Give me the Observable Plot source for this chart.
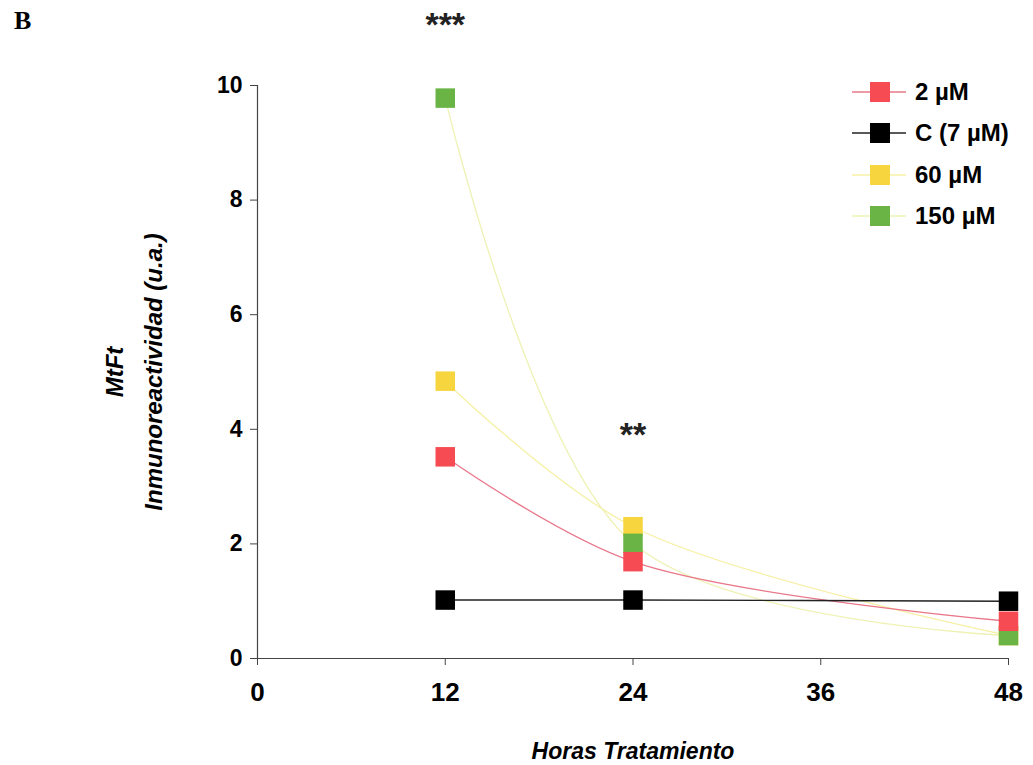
<!DOCTYPE html>
<html>
<head>
<meta charset="utf-8">
<script src="https://cdn.jsdelivr.net/npm/d3@7"></script>
<script src="https://cdn.jsdelivr.net/npm/@observablehq/plot@0.6"></script>
<style>
  html, body { margin: 0; padding: 0; background: #fff; }
  #wrap { position: relative; width: 1033px; height: 765px; font-family: "Liberation Sans", Arial, sans-serif; }
  #panel { position: absolute; left: 14px; top: 6px; font-family: "Liberation Serif", "DejaVu Serif", serif; font-weight: bold; font-size: 26px; }
  #legend { position: absolute; left: 852px; top: 71px; font-weight: bold; font-size: 24px; }
  #legend .item { display: flex; align-items: center; height: 41.5px; }
  #legend svg { margin-right: 9px; }
</style>
</head>
<body>
<div id="wrap">
  <div id="panel">B</div>
  <div id="chart"></div>
  <div id="legend"></div>
</div>
<script>
// Data
const hours = [12, 24, 48];
const series = ["2 µM", "C (7 µM)", "60 µM", "150 µM"];
const v2uM   = [3.52, 1.69, 0.65];
const vC     = [1.02, 1.02, 1.00];
const v60uM  = [4.84, 2.30, 0.40];
const v150uM = [9.78, 2.01, 0.40];
const xTicks = [0, 12, 24, 36, 48];
const yTicks = [0, 2, 4, 6, 8, 10];
const stars = [{x: 12, y: 11.05, t: "***"}, {x: 24, y: 3.9, t: "**"}];

const markerColor = {"2 µM": "#f64b52", "C (7 µM)": "#000000", "60 µM": "#f6d53e", "150 µM": "#6ab446"};
const lineColor   = {"2 µM": "#e8788a", "C (7 µM)": "#222222", "60 µM": "#f6f0a6", "150 µM": "#eef2b4"};
const lineWidth   = {"2 µM": 1.3, "C (7 µM)": 1.4, "60 µM": 1.3, "150 µM": 1.3};

const valuesBySeries = {"2 µM": v2uM, "C (7 µM)": vC, "60 µM": v60uM, "150 µM": v150uM};
// drawing order: yellow, green, red, black (black on top)
const drawOrder = ["60 µM", "150 µM", "2 µM", "C (7 µM)"];
const rows = drawOrder.flatMap(s => hours.map((h, i) => ({series: s, x: h, y: valuesBySeries[s][i]})));

const narrow = "'Liberation Sans Narrow', 'Arial Narrow', 'Liberation Sans', Arial, sans-serif";
const sans = "'Liberation Sans', Arial, sans-serif";

const marks = [];
for (const s of drawOrder) {
  marks.push(Plot.line(rows.filter(d => d.series === s), {x: "x", y: "y", curve: "catmull-rom", stroke: lineColor[s], strokeWidth: lineWidth[s]}));
}
for (const s of drawOrder) {
  marks.push(Plot.dot(rows.filter(d => d.series === s), {x: "x", y: "y", symbol: "square", r: 11, fill: markerColor[s], stroke: null}));
}

const chart = Plot.plot({
  width: 1033,
  height: 765,
  marginLeft: 257,
  marginRight: 25,
  marginTop: 85,
  marginBottom: 107,
  style: {fontFamily: sans, background: "#fff", color: "#000", overflow: "visible"},
  x: {domain: [0, 48]},
  y: {domain: [0, 10]},
  marks: [
    Plot.ruleY([0], {stroke: "#444", strokeWidth: 1.2}),
    Plot.ruleX([0], {stroke: "#444", strokeWidth: 1.2}),
    Plot.axisX({ticks: xTicks, tickSize: 7, tickPadding: 17, label: null, fontFamily: narrow, fontSize: 26, fontWeight: "bold", stroke: "#444", fill: "#000"}),
    Plot.axisX({ticks: [], tickSize: 0, label: "Horas Tratamiento", labelAnchor: "center", labelArrow: "none", labelOffset: 100, fontFamily: sans, fontSize: 23, fontWeight: "bold", fontStyle: "italic", fill: "#000"}),
    Plot.axisY({ticks: yTicks, tickSize: 7, tickPadding: 8, label: null, fontFamily: sans, fontSize: 23, fontWeight: "bold", stroke: "#444", fill: "#000"}),
    Plot.axisY({ticks: [], tickSize: 0, label: "MtFt", labelAnchor: "center", labelArrow: "none", labelOffset: 152, fontFamily: sans, fontSize: 24, fontWeight: "bold", fontStyle: "italic", fill: "#000"}),
    Plot.axisY({ticks: [], tickSize: 0, label: "Inmunoreactividad (u.a.)", labelAnchor: "center", labelArrow: "none", labelOffset: 113, fontFamily: sans, fontSize: 24, fontWeight: "bold", fontStyle: "italic", fill: "#000"}),
    ...marks,
    Plot.text(stars, {x: "x", y: "y", text: "t", fontSize: 34, fontWeight: "bold", fill: "#222", letterSpacing: 2})
  ]
});
document.getElementById("chart").appendChild(chart);

// Legend (HTML)
const legend = document.getElementById("legend");
for (const s of series) {
  const item = document.createElement("div");
  item.className = "item";
  item.innerHTML = `<svg width="54" height="22"><line x1="0" x2="54" y1="11" y2="11" stroke="${lineColor[s]}" stroke-width="${lineWidth[s]}"/><rect x="18" y="1" width="20" height="20" fill="${markerColor[s]}"/></svg><span>${s}</span>`;
  legend.appendChild(item);
}
</script>
</body>
</html>
